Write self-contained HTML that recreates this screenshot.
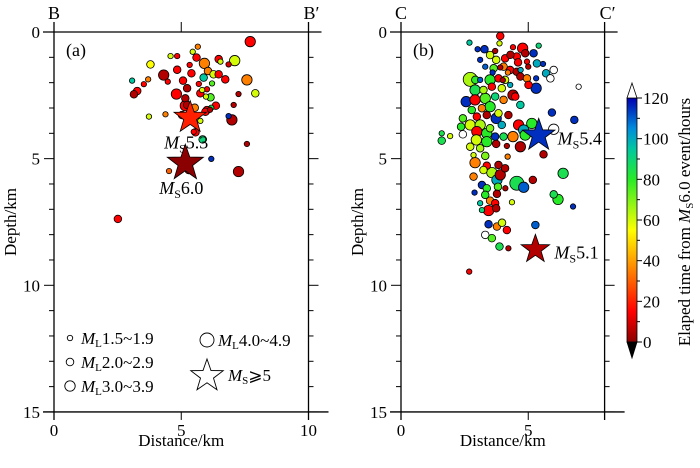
<!DOCTYPE html>
<html><head><meta charset="utf-8"><style>
html,body{margin:0;padding:0;background:#fff;}
svg{display:block;}
svg text{font-family:"Liberation Serif","DejaVu Serif",serif;}
</style></head><body>
<svg id="fig" width="700" height="468" viewBox="0 0 700 468" xmlns="http://www.w3.org/2000/svg" font-family="Liberation Serif, serif"></svg>
<script>
// ---- data ----
const aX=[7.71,5.65,5.45,4.58,4.84,5.6,6.47,7.1,5.91,3.79,5.33,6.86,6.54,4.31,4.84,5.4,6.05,6.27,5.88,6.47,6.73,7.58,3.07,3.7,3.53,4.47,5.07,5.69,6.21,3.27,3.14,5.23,6.01,5.82,4.81,5.16,5.75,6.15,5.97,7.25,7.91,5.23,5.53,6.01,6.36,6.18,7.06,3.73,4.38,5.03,6.86,6.99,5.75,5.56,5.84,5.49,7.58,6.18,4.52,7.25,5.29,2.51,5.16,5.95,6.13];
const aD=[0.38,0.58,0.78,0.95,0.95,1.01,1.07,1.13,1.24,1.28,1.30,1.28,1.17,1.70,1.49,1.63,1.54,1.67,1.80,1.67,1.87,1.89,1.92,1.87,2.06,1.96,1.92,2.05,2.03,2.33,2.46,2.22,2.26,2.29,2.45,2.62,2.42,2.58,2.55,2.45,2.42,2.88,2.99,3.08,2.91,2.99,2.88,3.34,3.25,3.28,3.32,3.47,3.51,3.96,4.24,3.94,4.42,5.01,5.49,5.51,5.45,7.38,2.91,3.15,3.07];
const aS=[3,1,1,1,1,2,2,3,3,2,1,1,1,3,2,2,2,2,2,2,2,3,1,1,1,1,2,1,1,2,2,2,1,1,3,2,2,2,1,1,2,2,2,2,2,1,1,1,1,2,1,3,1,2,2,1,1,1,1,3,2,2,3,2,1];
const aT=[15,35,60,60,15,15,15,60,35,55,15,10,60,5,15,15,35,60,95,15,15,35,95,35,15,15,15,15,75,15,5,5,15,60,15,5,15,75,60,5,60,5,35,15,15,85,5,60,35,15,115,5,60,15,90,15,5,115,30,5,5,15,15,15,5];
const bX=[2.69,3.9,3.87,3.01,3.28,4.78,4.88,5.41,3.5,3.11,3.74,4.09,4.55,4.95,5.21,5.34,5.58,5.0,6.0,5.7,5.87,6.98,3.31,3.64,4.03,4.29,4.55,2.72,2.92,3.11,3.5,3.83,4.09,4.69,4.95,5.31,2.91,3.24,3.57,3.96,4.29,4.4,5.01,5.31,2.56,2.91,3.31,3.7,4.03,4.49,4.69,2.78,3.18,3.5,3.83,5.93,6.81,2.43,2.98,3.37,3.74,4.22,4.62,5.14,6.0,2.36,2.72,3.11,3.5,3.96,2.98,3.37,3.7,4.03,4.4,4.82,4.88,1.6,1.93,1.6,2.43,2.96,3.37,3.74,4.16,4.69,2.72,3.11,5.6,2.85,3.31,4.19,2.91,3.37,3.83,4.09,6.37,3.24,3.57,2.85,3.77,3.9,4.55,4.82,5.18,3.18,3.37,3.81,4.1,2.89,3.31,3.77,6.0,6.17,6.76,3.11,3.5,3.7,4.36,3.18,3.44,3.74,3.44,3.77,3.97,4.16,5.28,3.31,3.57,3.87,4.22,2.68,4.3,4.6,3.9,4.2,4.4,3.7,4.7,3.6,4.0];
const bD=[0.42,0.16,0.45,0.68,0.68,0.64,0.84,0.54,0.91,1.1,1.1,1.04,0.97,1.17,0.84,1.24,1.26,1.37,1.5,1.63,1.83,2.16,1.37,1.43,1.37,1.5,1.57,1.87,1.89,1.89,1.89,1.83,1.89,1.76,1.83,1.83,2.29,2.29,2.16,2.22,2.09,2.49,2.09,2.22,2.75,2.68,2.62,2.55,2.68,2.55,2.88,3.08,3.01,2.95,3.21,3.18,3.47,3.41,3.34,3.28,3.41,3.28,3.67,3.61,3.84,3.74,3.67,3.67,3.8,3.67,3.93,4.0,4.13,4.13,4.13,3.87,4.07,4.0,4.11,4.29,4.04,4.26,4.33,4.42,4.5,4.53,4.53,4.59,4.83,4.86,4.89,4.92,5.16,5.28,5.25,5.38,5.58,5.45,5.55,5.71,5.84,5.64,5.97,6.13,5.84,6.04,6.17,6.11,6.17,6.34,6.43,6.39,6.41,6.61,6.89,6.76,6.66,6.76,6.72,7.03,7.05,6.96,7.59,7.68,7.53,7.82,7.62,8.01,8.14,8.47,8.54,9.46,0.9,1.2,1.4,1.6,0.6,0.75,1.5,1.6,1.9];
const bS=[1,2,1,1,2,3,2,1,2,1,2,2,2,1,2,2,1,1,2,2,2,1,1,2,2,2,2,4,2,1,3,2,2,2,2,1,3,2,2,2,1,3,2,3,3,3,3,2,2,2,2,2,2,3,2,2,2,2,2,2,3,2,3,3,3,2,3,3,2,2,3,3,2,2,3,3,3,1,1,2,2,3,3,2,1,3,2,2,2,1,2,1,3,2,2,2,3,2,3,2,3,3,4,3,2,2,2,2,1,1,2,2,2,3,1,1,2,2,1,1,3,2,2,2,2,2,2,2,2,2,1,1,2,2,1,1,1,1,1,1,1];
const bT=[95,15,60,115,115,15,5,90,60,115,60,15,15,15,115,100,115,5,130,100,130,130,110,75,35,15,5,65,80,110,80,15,60,5,35,115,85,65,15,60,100,5,15,115,115,15,75,90,35,15,95,80,35,80,60,115,115,75,15,5,115,5,15,80,130,80,60,65,70,100,15,80,115,85,35,100,80,85,60,85,130,60,80,5,5,5,60,65,5,60,70,35,35,15,5,5,85,60,65,35,100,5,85,110,5,115,80,75,5,115,80,5,85,80,115,95,35,15,60,90,15,5,115,35,60,15,110,130,75,85,5,15,5,15,5,35,15,5,100,115,5];
const starP=["a","a","b","b"];
const starX=[5.35,5.16,5.41,5.28];
const starD=[3.30,5.10,4.00,8.50];
const starT=[20,0,115,5];
const starM=["5.3","6.0","5.4","5.1"];
const cbTicks=[0,20,40,60,80,100,120];
const xTicksA=[0,5,10], xTicksB=[0,5], yTicks=[0,5,10,15];

// ---- geometry ----
const NS="http://www.w3.org/2000/svg";
const svg=document.getElementById("fig");
const FF="Liberation Serif, DejaVu Serif, serif";
const top0=32, ky=25.33, kx=25.45;
const panels={a:{x0:54,w:10},b:{x0:401,w:8}};
function sx(p,v){return panels[p].x0+v*kx;}
function sy(d){return top0+d*ky;}
const cbX=627,cbW=10,cbTop=98,cbBot=342;
function cy(t){return cbBot-(t/120)*(cbBot-cbTop);}
const rad=[0,2.7,3.8,5.2,7];
const stops=[[0,[139,0,0]],[15,[255,0,0]],[35,[255,128,0]],[55,[255,255,0]],[80,[40,235,40]],[95,[0,200,160]],[105,[0,140,220]],[120,[0,0,176]]];
function col(t){
  if(t>120)return "#ffffff";
  if(t<=0)return "rgb(139,0,0)";
  for(let i=1;i<stops.length;i++){
    if(t<=stops[i][0]){const a=stops[i-1],b=stops[i],f=(t-a[0])/(b[0]-a[0]);
      return "rgb("+a[1].map((c,j)=>Math.round(c+(b[1][j]-c)*f)).join(",")+")";}
  }
  return "rgb(0,0,176)";
}
function mk(tag,attrs,parent){const e=document.createElementNS(NS,tag);for(const k in attrs)e.setAttribute(k,attrs[k]);if(tag==="text")e.setAttribute("font-family",FF);(parent||svg).appendChild(e);return e;}
function line(x1,y1,x2,y2,w,g){return mk("line",{x1,y1,x2,y2,stroke:"#000","stroke-width":w||1},g);}
function txt(x,y,s,size,anchor,g){const t=mk("text",{x,y,"font-size":size,"text-anchor":anchor||"middle"},g);t.textContent=s;return t;}
function starPath(cx,cy_,R){const r=R*0.4;let d="";for(let i=0;i<10;i++){const a=-Math.PI/2+i*Math.PI/5,rr=i%2?r:R;d+=(i?"L":"M")+(cx+rr*Math.cos(a)).toFixed(1)+","+(cy_+rr*Math.sin(a)).toFixed(1);}return d+"Z";}

// ---- axes ----
["a","b"].forEach(p=>{
  const P=panels[p],L=P.x0,R=sx(p,P.w),B=sy(15);
  const g=mk("g",{});
  
  
  line(L-11,top0,R+13,top0,1.3,g);line(L-11,B,R+20,B,1.3,g);
  line(L,top0-10,L,B+8,1.3,g);line(R,top0-10,R,B+8,1.3,g);
  for(let d=0;d<=15;d++){const y=sy(d),len=d%5===0?10:5;line(L-len,y,L,y,1,g);line(R,y,R+len,y,1,g);}
  (p==="a"?xTicksA:xTicksB).forEach(v=>{line(sx(p,v),top0-10,sx(p,v),top0,1,g);line(sx(p,v),B,sx(p,v),B+8,1,g);
    const t=txt(sx(p,v),B+24,String(v),17,"middle",g);});
  yTicks.forEach(v=>{const t=txt(L-14,sy(v)+6,String(v),17,"end",g);});
  const xt=txt((L+R)/2,446,"Distance/km",17,"middle",g);
  
  const yt=txt(0,0,"Depth/km",17,"middle",g);yt.setAttribute("transform","translate("+(L-38)+",222) rotate(-90)");
  
  const e1=txt(L,19,p==="a"?"B":"C",18,"middle",g);
  const e2=txt(R+3,19,p==="a"?"B\u2032":"C\u2032",18,"middle",g);
  const pl=txt(L+12,56,"("+p+")",18,"start",g);
});

// ---- events ----
function drawEvents(p,X,D,S,T){
  const g=mk("g",{});
  
  
  const idx=X.map((_,i)=>i).sort((i,j)=>S[j]-S[i]);
  idx.forEach(i=>{
    const c=mk("circle",{cx:sx(p,X[i]),cy:sy(D[i]),r:rad[S[i]],fill:col(T[i]),stroke:"#000","stroke-width":0.8},g);
    
    
  });
}
drawEvents("a",aX,aD,aS,aT);
drawEvents("b",bX,bD,bS,bT);

starP.forEach((p,i)=>{
  const R=starM[i]==="6.0"?19:(starM[i]==="5.1"?15:17);
  const s=mk("path",{d:starPath(sx(p,starX[i]),sy(starD[i])+2,R),fill:col(starT[i]),stroke:"#000","stroke-width":0.8});
  
  
  let lx,ly,anc;
  if(p==="a"){lx=sx(p,starX[i])-4;ly=sy(starD[i])+33;anc="middle";}else{lx=sx(p,starX[i])+19;ly=sy(starD[i])+11;anc="start";}
  const t=mk("text",{x:lx,y:ly,"font-size":18,"text-anchor":anc});
  t.innerHTML='<tspan font-style="italic">M</tspan><tspan font-size="12" dy="4">S</tspan><tspan dy="-4">'+starM[i]+'</tspan>';
  
  
});

// ---- legend ----
const lg=mk("g",{});


const legItems=[[70,338,1,"1.5~1.9"],[70,362,2,"2.0~2.9"],[70,386,3,"3.0~3.9"],[207,340,4,"4.0~4.9"]];
legItems.forEach(it=>{
  mk("circle",{cx:it[0],cy:it[1],r:rad[it[2]],fill:"#fff",stroke:"#000","stroke-width":0.9},lg);
  const t=mk("text",{x:it[0]+11,y:it[1]+6,"font-size":17},lg);
  t.innerHTML='<tspan font-style="italic">M</tspan><tspan font-size="11" dy="3">L</tspan><tspan dy="-3">'+it[3]+'</tspan>';
});
mk("path",{d:starPath(207,376,17),fill:"#fff",stroke:"#000","stroke-width":0.9},lg);
const ms=mk("text",{x:228,y:381,"font-size":17},lg);
ms.innerHTML='<tspan font-style="italic">M</tspan><tspan font-size="11" dy="3">S</tspan><tspan dy="-3">\u2A7E5</tspan>';

// ---- colorbar ----
const cb=mk("g",{});


const defs=mk("defs",{},cb);
const gr=mk("linearGradient",{id:"cbg",x1:0,y1:1,x2:0,y2:0},defs);
for(let t=0;t<=120;t+=5)mk("stop",{offset:(t/120).toFixed(3),"stop-color":col(t)},gr);
mk("rect",{x:cbX,y:cbTop,width:cbW,height:cbBot-cbTop,fill:"url(#cbg)",stroke:"#000","stroke-width":0.8},cb);
mk("path",{d:`M${cbX},${cbTop}L${cbX+cbW/2},${cbTop-15}L${cbX+cbW},${cbTop}Z`,fill:"#fff",stroke:"#000","stroke-width":0.8},cb);
mk("path",{d:`M${cbX},${cbBot}L${cbX+cbW/2},${cbBot+16}L${cbX+cbW},${cbBot}Z`,fill:"#000",stroke:"#000","stroke-width":0.8},cb);
for(let t=0;t<=120;t+=10){line(cbX+cbW,cy(t),cbX+cbW+(t%20===0?5:3),cy(t),1,cb);}
cbTicks.forEach(v=>{const t=txt(cbX+cbW+6,cy(v)+6,String(v),17,"start",cb);});
const ct=mk("text",{"font-size":17,"text-anchor":"middle",transform:"translate(690,222) rotate(-90)"},cb);
ct.innerHTML='Elaped time from <tspan font-style="italic">M</tspan><tspan font-size="11" dy="3">S</tspan><tspan dy="-3">6.0 event/hours</tspan>';


</script>
</body></html>
